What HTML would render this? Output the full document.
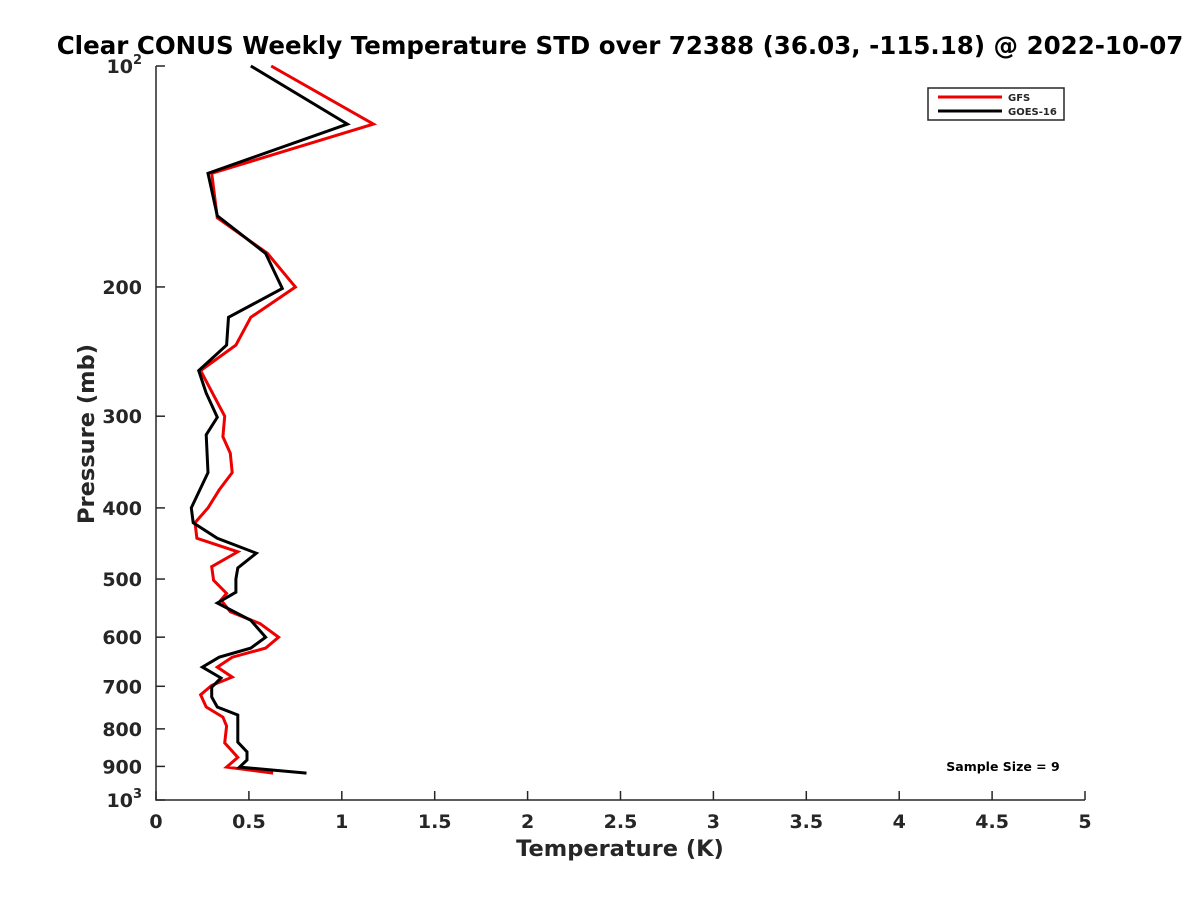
<!DOCTYPE html>
<html><head><meta charset="utf-8"><style>
body{margin:0;background:#fff;}
svg text{font-family:"DejaVu Sans","Liberation Sans",sans-serif;font-weight:bold;fill:#262626;}
</style></head><body>
<svg id="chart" width="1200" height="900" xmlns="http://www.w3.org/2000/svg">
<rect width="1200" height="900" fill="#fff"/>
<text x="620" y="54" text-anchor="middle" font-size="24.5" style="fill:#000">Clear CONUS Weekly Temperature STD over 72388 (36.03, -115.18) @ 2022-10-07</text>
<g id="axes"></g>
<g id="series"></g>
<g>
<rect x="928" y="88" width="136" height="32" fill="#fff" stroke="#262626" stroke-width="1.5"/>
<line x1="938" y1="97" x2="1002" y2="97" stroke="#e00" stroke-width="3"/>
<text x="1008" y="101" font-size="10">GFS</text>
<line x1="938" y1="111" x2="1002" y2="111" stroke="#000" stroke-width="3"/>
<text x="1008" y="115" font-size="10">GOES-16</text>
</g>
<text x="1003" y="771" text-anchor="middle" font-size="12.5" style="fill:#000">Sample Size = 9</text>
<text x="620" y="856" text-anchor="middle" font-size="22.5">Temperature (K)</text>
<text transform="translate(94,434) rotate(-90)" text-anchor="middle" font-size="22.5">Pressure (mb)</text>
</svg>
<script>
const xTicks=[0,0.5,1,1.5,2,2.5,3,3.5,4,4.5,5];
const xTickLabels=["0","0.5","1","1.5","2","2.5","3","3.5","4","4.5","5"];
const yTicks=[100,200,300,400,500,600,700,800,900,1000];
const yTickLabels=["10^2","200","300","400","500","600","700","800","900","10^3"];
const gfsPressure=[100,120,140,161,180,200,220,240,260,300,320,337,358,378,400,419,440,459,481,502,523,534,554,575,600,621,639,659,680,698,719,747,771,793,836,875,902,919];
const gfsTemp=[0.62,1.17,0.30,0.33,0.60,0.75,0.51,0.43,0.24,0.37,0.36,0.40,0.41,0.34,0.28,0.21,0.22,0.44,0.30,0.31,0.38,0.35,0.40,0.56,0.66,0.59,0.41,0.33,0.41,0.30,0.24,0.27,0.36,0.38,0.37,0.44,0.38,0.63];
const goesPressure=[100,120,140,160,180,201,220,240,260,279,301,318,358,400,419,440,461,483,500,521,539,569,600,621,639,659,682,702,724,747,766,783,834,860,882,902,919];
const goesTemp=[0.51,1.03,0.28,0.33,0.59,0.68,0.39,0.38,0.23,0.27,0.33,0.27,0.28,0.19,0.20,0.33,0.54,0.44,0.43,0.43,0.33,0.51,0.59,0.51,0.34,0.25,0.35,0.30,0.30,0.33,0.44,0.44,0.44,0.49,0.49,0.45,0.81];
const X0=156,X1=1085,Y0=66,Y1=800;
const xs=v=>X0+(X1-X0)*v/5;
const ys=p=>Y0+(Y1-Y0)*Math.log10(p/100);
const NS="http://www.w3.org/2000/svg";
function mk(t,a,parent){const e=document.createElementNS(NS,t);for(const k in a)e.setAttribute(k,a[k]);parent.appendChild(e);return e;}
const axes=document.getElementById('axes');
const ax=mk('path',{d:`M${X0},${Y0} L${X0},${Y1} L${X1},${Y1}`,fill:'none',stroke:'#262626','stroke-width':1.5},axes);


xTicks.forEach((v,i)=>{
 const x=xs(v);
 const t=mk('line',{x1:x,y1:Y1,x2:x,y2:Y1-9,stroke:'#262626','stroke-width':1.5},axes);
 
 
 const l=mk('text',{x:x,y:Y1+28,'text-anchor':'middle','font-size':19},axes);
 
 
 l.textContent=xTickLabels[i];
});
yTicks.forEach((p,i)=>{
 const y=ys(p);
 const t=mk('line',{x1:X0,y1:y,x2:X0+9,y2:y,stroke:'#262626','stroke-width':1.5},axes);
 
 
 const l=mk('text',{x:X0-14,y:y+7,'text-anchor':'end','font-size':19},axes);
 
 
 const s=yTickLabels[i];
 if(s.indexOf('^')>=0){const [b,e]=s.split('^');l.textContent=b;const ts=mk('tspan',{dy:-9,'font-size':13},l);ts.textContent=e;}
 else l.textContent=s;
});
const ser=document.getElementById('series');
function line(P,T,color,name){
 const d=P.map((p,i)=>(i?'L':'M')+xs(T[i]).toFixed(1)+','+ys(p).toFixed(1)).join(' ');
 const e=mk('path',{d:d,fill:'none',stroke:color,'stroke-width':3,'stroke-linejoin':'miter'},ser);
 
 
}
line(gfsPressure,gfsTemp,'#e00','gfs-line');
line(goesPressure,goesTemp,'#000','goes16-line');
</script>
</body></html>
